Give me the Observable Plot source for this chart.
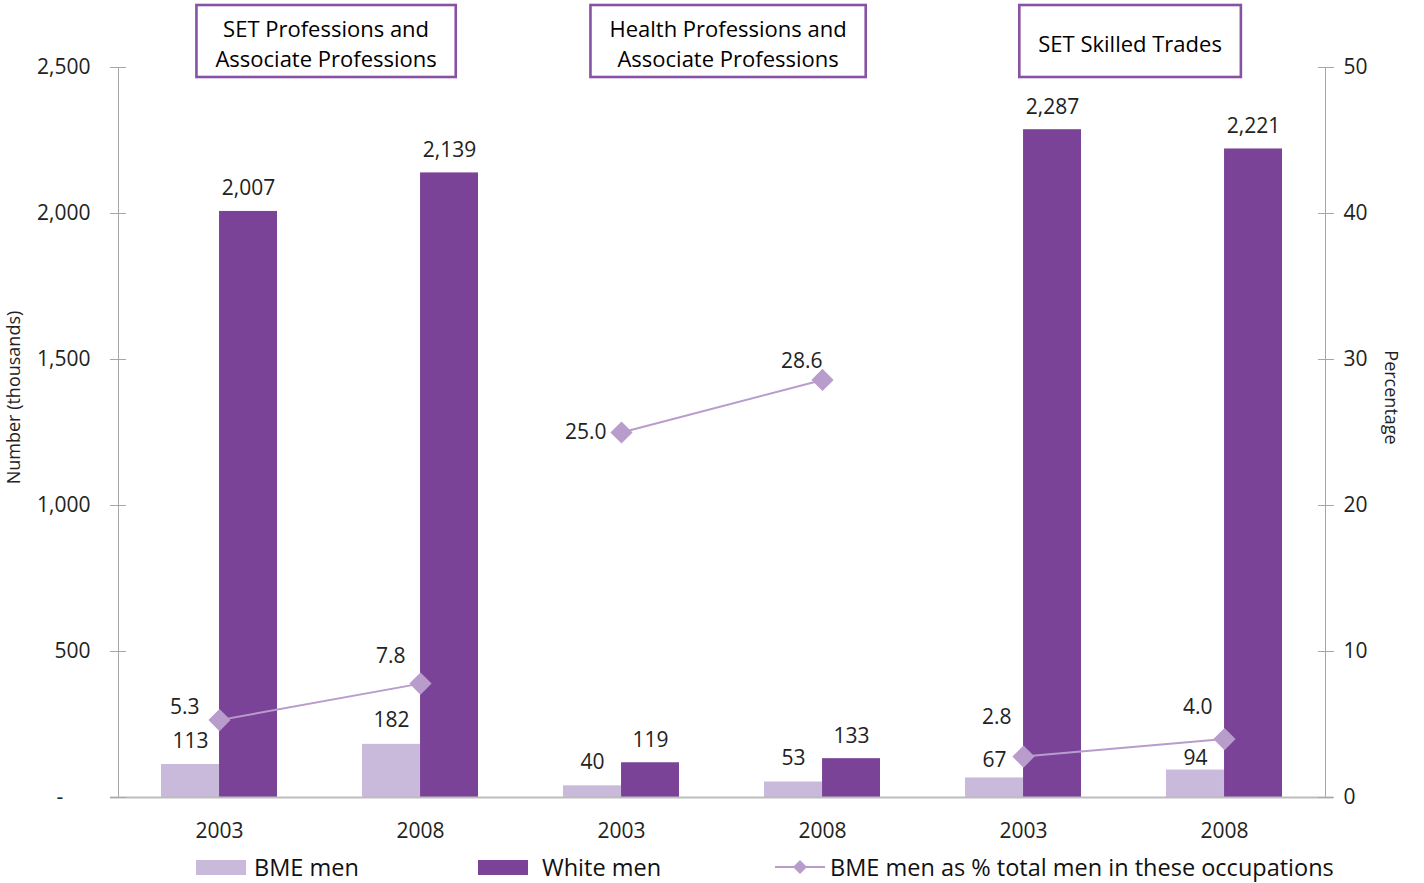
<!DOCTYPE html>
<html><head><meta charset="utf-8">
<script src="https://cdn.jsdelivr.net/npm/d3@7"></script>
<script src="https://cdn.jsdelivr.net/npm/@observablehq/plot@0.6"></script>
<style>
body{margin:0;background:#fff;font-family:"Open Sans",sans-serif;}
#wrap{position:relative;width:1424px;height:883px;overflow:hidden;}
#wrap svg.plot{position:absolute;left:0;top:0;}
.legend{position:absolute;left:0;top:855px;width:1424px;height:24px;font-size:23.5px;line-height:24px;color:#111;font-family:"Open Sans",sans-serif;}
.legend .item{position:absolute;top:0;height:24px;display:flex;align-items:center;white-space:nowrap;}
.legend .sw{display:inline-block;width:50px;height:15px;}
</style></head><body>
<div id="wrap"></div>
<script>
// ---- data ----
const categories = ["SET Professions and Associate Professions", "Health Professions and Associate Professions", "SET Skilled Trades"];
const categoryLabels = ["SET Professions and\nAssociate Professions", "Health Professions and\nAssociate Professions", "SET Skilled Trades"];
const years = ["2003", "2008"];
const bmeMen = [113, 182, 40, 53, 67, 94];
const whiteMen = [2007, 2139, 119, 133, 2287, 2221];
const bmePct = [5.3, 7.8, 25.0, 28.6, 2.8, 4.0];
const leftTicks = [0, 500, 1000, 1500, 2000, 2500];
const rightTicks = [0, 10, 20, 30, 40, 50];
const seriesNames = ["BME men", "White men", "BME men as % total men in these occupations"];

// ---- build ----
const colBME = "#c9b9db", colWhite = "#7b4397", colPct = "#b89ccb", axisCol = "#a6a6a6";
const W = 1424, H = 855, mL = 118, mR = 99, mT = 67, mB = 58;
const yMax = 2500, pMax = 50, ratio = yMax / pMax;
const padInner = 0.423;
const step = (W - mL - mR) / 6;
const bw = step * (1 - padInner);

const rows = categories.flatMap((cat, i) => years.map((yr, j) => {
  const k = i * 2 + j;
  return {cat, key: `${i}-${yr}`, year: yr, bme: bmeMen[k], white: whiteMen[k], pct: bmePct[k]};
}));
const catRows = categories.map((c, i) => ({cat: c, key: `${i}-${years[0]}`, label: categoryLabels[i]}));
// label placement tweaks (pixels)
const pctOffsets = [[-20, -13], [-15, -27], [-15, 0], [0, -19], [-12, -39], [-12, -32]];
const bmeLabelDy = [-17, -17, -17, -17, -11, -5];
const fmt = d3.format(",");

const chart = Plot.plot({
  width: W, height: H,
  marginLeft: mL, marginRight: mR, marginTop: mT, marginBottom: mB,
  style: {fontFamily: "Open Sans, sans-serif", fontSize: "21px", color: "#222", background: "transparent"},
  x: {domain: rows.map(d => d.key), paddingInner: padInner, paddingOuter: padInner / 2, axis: null},
  y: {domain: [0, yMax], axis: null},
  marks: [
    Plot.frame({anchor: "left", stroke: axisCol}),
    Plot.frame({anchor: "right", stroke: axisCol}),
    Plot.barY(rows, {x: "key", y: "bme", fill: colBME, insetRight: bw / 2}),
    Plot.barY(rows, {x: "key", y: "white", fill: colWhite, insetLeft: bw / 2}),
    Plot.ruleY([0], {stroke: "#bdbdbd", strokeWidth: 2, insetLeft: -8, insetRight: -8}),
    Plot.axisY(leftTicks, {anchor: "left", tickSize: 16, dx: 8, tickPadding: 20, stroke: axisCol, fontSize: 21,
      tickFormat: d => d === 0 ? "-\u00a0\u00a0\u00a0\u00a0\u00a0" : fmt(d), label: null}),
    Plot.axisY(rightTicks.map(d => d * ratio), {anchor: "right", tickSize: 16, dx: -8, tickPadding: 10, stroke: axisCol, fontSize: 21,
      tickFormat: d => String(d / ratio), label: null}),
    Plot.axisX({tickSize: 0, tickPadding: 26, fontSize: 21, tickFormat: k => k.split("-")[1], label: null}),
    Plot.text(["Number (thousands)"], {frameAnchor: "left", textAnchor: "middle", lineAnchor: "middle", rotate: -90, dx: -104, dy: -35, fontSize: 18, fill: "#222"}),
    Plot.text(["Percentage"], {frameAnchor: "right", textAnchor: "middle", lineAnchor: "middle", rotate: 90, dx: 65, dy: -35, fontSize: 18, fill: "#222"}),
    ...rows.map((d, i) => Plot.text([d], {x: "key", y: "bme", text: r => fmt(r.bme), dx: -bw / 4, dy: bmeLabelDy[i], lineAnchor: "bottom", fontSize: 21, fill: "#222"})),
    Plot.text(rows, {x: "key", y: "white", text: d => fmt(d.white), dx: bw / 4, dy: -16, lineAnchor: "bottom", fontSize: 21, fill: "#222"}),
    Plot.line(rows, {x: "key", y: d => d.pct * ratio, z: "cat", stroke: colPct, strokeWidth: 2}),
    Plot.dot(rows, {x: "key", y: d => d.pct * ratio, symbol: "diamond2", r: 10, fill: colPct, stroke: null}),
    ...rows.map((d, i) => Plot.text([d], {x: "key", y: r => r.pct * ratio, text: r => r.pct.toFixed(1), textAnchor: "end",
      dx: pctOffsets[i][0], dy: pctOffsets[i][1], fontSize: 21, fill: "#222"})),
    Plot.text(catRows, {x: "key", frameAnchor: "top", lineAnchor: "middle", text: "label", dx: step / 2 + 6, dy: -25, lineHeight: 1.37,
      fontSize: 22, fill: "#000", className: "catlabel"})
  ]
});
chart.classList.add("plot");
const wrap = document.getElementById("wrap");
wrap.appendChild(chart);

// boxes around category labels
const svgRect = chart.getBoundingClientRect();
const catG = chart.querySelector("g.catlabel");
if (catG) {
  catG.querySelectorAll("text").forEach(t => {
    const r = t.getBoundingClientRect();
    const rect = document.createElementNS("http://www.w3.org/2000/svg", "rect");
    rect.setAttribute("x", r.left - svgRect.left - 19);
    rect.setAttribute("width", r.width + 38);
    rect.setAttribute("y", 5);
    rect.setAttribute("height", 72);
    rect.setAttribute("fill", "#fff");
    rect.setAttribute("stroke", "#8752a3");
    rect.setAttribute("stroke-width", 2.6);
    chart.insertBefore(rect, catG);
  });
}

// legend
const legend = document.createElement("div");
legend.className = "legend";
legend.innerHTML = `
  <div class="item" style="left:196px"><span class="sw" style="background:${colBME}"></span><span style="margin-left:8px">${seriesNames[0]}</span></div>
  <div class="item" style="left:478px"><span class="sw" style="background:${colWhite}"></span><span style="margin-left:14px">${seriesNames[1]}</span></div>
  <div class="item" style="left:775px"><svg width="52" height="20" style="display:block"><line x1="0" y1="10" x2="50" y2="10" stroke="${colPct}" stroke-width="2"/><path d="M25,3 L32,10 L25,17 L18,10 Z" fill="${colPct}"/></svg><span style="margin-left:3px">${seriesNames[2]}</span></div>`;
wrap.appendChild(legend);
</script>
</body></html>
